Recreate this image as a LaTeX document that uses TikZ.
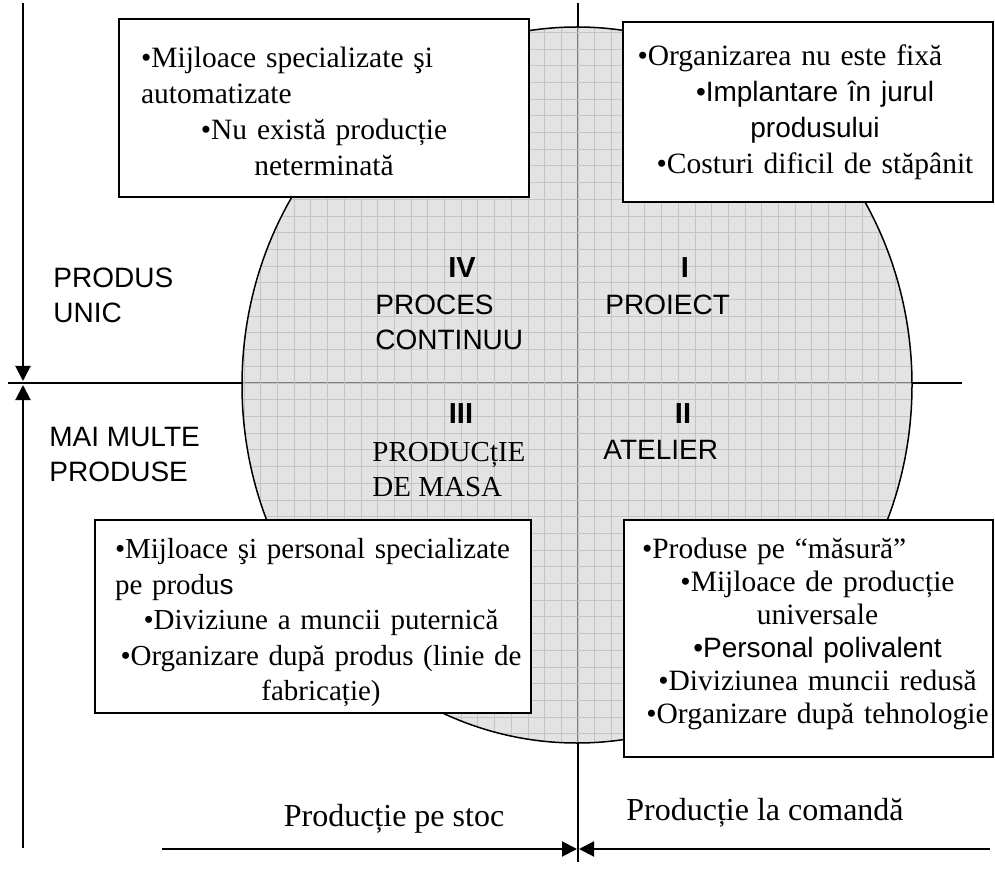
\documentclass[tikz,border=0pt]{standalone}
\usepackage{fontspec}
\setmainfont{Liberation Serif}
\setsansfont{Liberation Sans}
\usetikzlibrary{arrows.meta}
\hyphenpenalty=10000
\exhyphenpenalty=10000
\tikzset{
  axis/.style={line width=1pt},
  tip/.style={-{Triangle[length=7.5pt,width=7.5pt]}},
  box/.style={draw,line width=1pt,fill=white,inner sep=0pt},
  boxtext/.style={inner sep=0pt,align=center,font=\fontsize{14.75}{18}\selectfont},
  quad/.style={inner sep=0pt,anchor=west,align=left,font=\sffamily\fontsize{14}{17.5}\selectfont},
  roman/.style={inner sep=0pt,font=\sffamily\bfseries\fontsize{14.5}{17.5}\selectfont},
  bottomlabel/.style={inner sep=0pt,font=\fontsize{16}{19}\selectfont},
}
\newcommand{\sanspart}[1]{{\sffamily\fontsize{14}{18}\selectfont #1}}
\begin{document}
\begin{tikzpicture}[x=0.5pt,y=-0.5pt]
\useasboundingbox (0,0) rectangle (995,871);
\coordinate (vtop) at (578,3);
\coordinate (vbot) at (578,862);
\coordinate (hleft) at (8,383);
\coordinate (hright) at (962,383);
\draw[axis] (vtop) -- (vbot);
\draw[axis] (hleft) -- (hright);
\fill[gray!36,fill opacity=0.6] (577,385) ellipse [x radius=335,y radius=358];
\begin{scope}
\clip (577,385) ellipse [x radius=335,y radius=358];
\foreach \k in {-22,...,22}
  \draw[gray!46,line width=0.4pt] (578+16.7*\k,20) -- (578+16.7*\k,750);
\foreach \k in {-22,...,22}
  \draw[gray!46,line width=0.4pt] (230,383+16.7*\k) -- (930,383+16.7*\k);
\end{scope}
\draw[line width=0.75pt] (577,385) ellipse [x radius=335,y radius=358];
\node[box,minimum width=205pt,minimum height=89pt] (tl) at (324,108) {};
\node[box,minimum width=185pt,minimum height=90pt] (tr) at (808,112) {};
\node[box,minimum width=218pt,minimum height=96.5pt] (bl) at (313,616.5) {};
\node[box,minimum width=184.5pt,minimum height=118.5pt] (br) at (808.5,638.5) {};
\node[boxtext,text width=183pt] (tltext) at (324,111) {•Mijloace specializate şi\hfill\mbox{}\\ automatizate\hfill\mbox{}\\ •Nu există producție\\ neterminată};
\node[boxtext,text width=177.5pt] (trtext) at (815,112.5) {•Organizarea nu este fixă\hfill\mbox{}\\ \sanspart{•Implantare în jurul}\\ \sanspart{produsului}\\ •Costuri dificil de stăpânit};
\node[boxtext,text width=206pt,font=\fontsize{14.5}{17.75}\selectfont] (bltext) at (321,623) {•Mijloace şi personal specializate\hfill\mbox{}\\ pe produ\sanspart{s}\hfill\mbox{}\\ •Diviziune a muncii puternică\\ •Organizare după produs (linie de\\ fabricație)};
\node[boxtext,text width=175.5pt,font=\fontsize{14.75}{16.5}\selectfont] (brtext) at (817.5,634) {•Produse pe “măsură”\hfill\mbox{}\\ •Mijloace de producție\\ universale\\ \sanspart{•Personal polivalent}\\ •Diviziunea muncii redusă\\ •Organizare după tehnologie};
\node[roman] (iv) at (462,268) {IV};
\node[roman] (i) at (685,268) {I};
\node[roman] (iii) at (461,414) {III};
\node[roman] (ii) at (683,414) {II};
\node[quad] (proces) at (375,322.5) {PROCES\\CONTINUU};
\node[quad] (proiect) at (605,305) {PROIECT};
\node[quad] (atelier) at (603,450) {ATELIER};
\node[quad,font=\fontsize{14.5}{17.5}\selectfont] (masa) at (372,469.5) {PRODUCțIE\\DE MASA};
\node[quad] (unic) at (53,295) {PRODUS\\UNIC};
\node[quad] (multe) at (49,454.5) {MAI MULTE\\PRODUSE};
\node[bottomlabel,anchor=base] (stoc) at (394,826) {Producție pe stoc};
\node[bottomlabel,anchor=base west] (comanda) at (626,820) {Producție la comandă};
\coordinate (atop) at (23,3);
\coordinate (aup) at (23,381);
\coordinate (adown) at (23,385);
\coordinate (abot) at (23,848);
\coordinate (bleft) at (162,849);
\coordinate (bmidl) at (577,849);
\coordinate (bmidr) at (579,849);
\coordinate (bright) at (990,849);
\draw[axis,tip] (atop) -- (aup);
\draw[axis,tip] (abot) -- (adown);
\draw[axis,tip] (bleft) -- (bmidl);
\draw[axis,tip] (bright) -- (bmidr);
\end{tikzpicture}
\end{document}
